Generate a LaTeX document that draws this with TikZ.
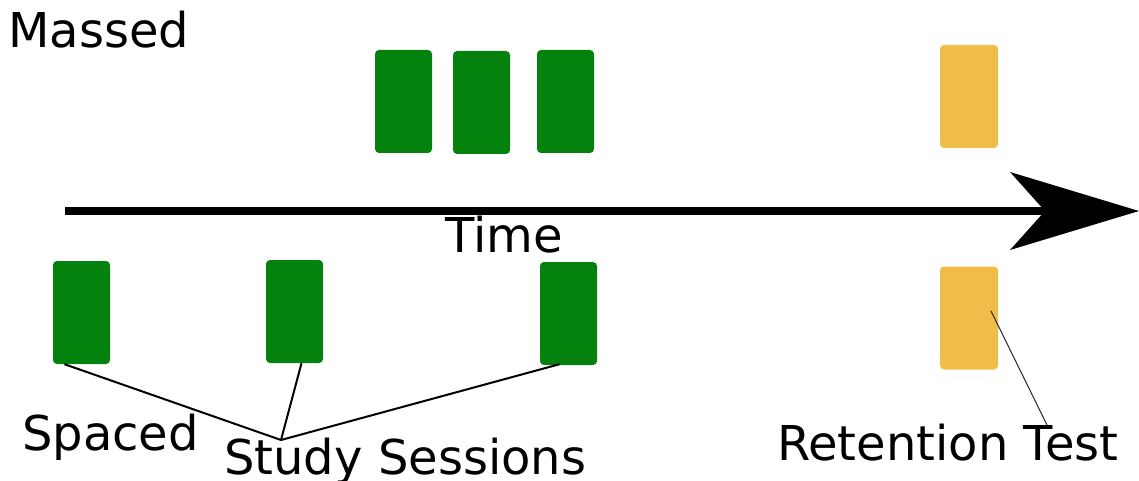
\documentclass[tikz,border=0pt]{standalone}
\usepackage{fontspec}
\setmainfont{DejaVu Sans}
\definecolor{sessiongreen}{RGB}{5,130,13}
\definecolor{testyellow}{RGB}{240,190,72}
\begin{document}
\begin{tikzpicture}[x=1pt,y=-1pt,
  sess/.style={fill=sessiongreen,rounded corners=4pt,draw=none,inner sep=0pt,minimum width=57pt,minimum height=103pt},
  rtest/.style={fill=testyellow,rounded corners=4pt,draw=none,inner sep=0pt,minimum width=58pt,minimum height=103pt},
  lbl/.style={anchor=base west,inner sep=0pt,font=\fontsize{48}{57}\selectfont},
  lead/.style={line width=2pt,black},
  thinlead/.style={line width=1pt,black!85}]
\useasboundingbox (0,0) rectangle (1139,481);

% time axis
\coordinate (t0) at (65,211);
\coordinate (tip) at (1139,211);
\draw[line width=8pt] (t0) -- ([xshift=-90pt]tip);
\fill ([xshift=-129pt,yshift=-39pt]tip) -- (tip) -- ([xshift=-129pt,yshift=39pt]tip) -- ([xshift=-94pt]tip) -- cycle;

% massed schedule
\node[sess] (m1) at (403.5,101.5) {};
\node[sess] (m2) at (481.5,102.5) {};
\node[sess] (m3) at (565.5,101.5) {};
\node[rtest] (mt) at (969,96.5) {};

% spaced schedule
\node[sess] (s1) at (81.5,312.5) {};
\node[sess] (s2) at (294.5,311.5) {};
\node[sess] (s3) at (568.5,313.5) {};
\node[rtest] (st) at (969,318) {};

% labels
\node[lbl] (massed) at (8,48) {Massed};
\node[lbl] (time) at (445,252) {Time};
\node[lbl] (spaced) at (22,450) {Spaced};
\node[lbl] (study) at (224,474) {Study Sessions};
\node[lbl] (retention) at (777,460) {Retention Test};

% leader lines
\coordinate (join) at (281,440);
\draw[lead] ([xshift=-17pt]s1.south) -- (join);
\draw[lead] ([xshift=7pt]s2.south) -- (join);
\draw[lead] ([xshift=-9pt,yshift=1pt]s3.south) -- (join);
\coordinate (rin) at (991,311);
\coordinate (rout) at (1047,425);
\draw[thinlead] (rin) -- (rout);
\end{tikzpicture}
\end{document}
